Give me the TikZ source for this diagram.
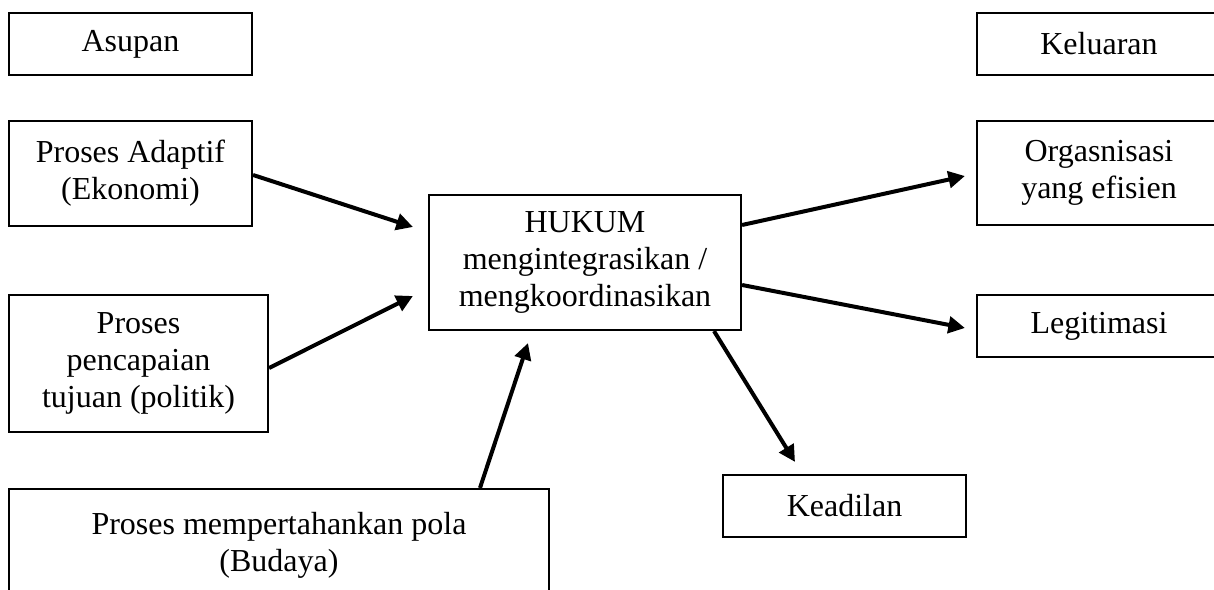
\documentclass[tikz,border=0pt]{standalone}
\usepackage{fontspec}
\setmainfont{Liberation Serif}
\usetikzlibrary{positioning, shapes, arrows.meta, calc}
\tikzset{
  box/.style={draw, line width=0.8pt, align=center, inner sep=0,
    font=\fontsize{12}{13.8}\selectfont},
  link/.style={->, line width=1.5pt}
}

\begin{document}
\begin{tikzpicture}[x=0.375pt,y=-0.375pt,>={Triangle[width=6.2pt,length=6.2pt]}]
\useasboundingbox (0,0) rectangle (1214,590);
\clip (0,0) rectangle (1214,590);

%left column
\node [box, minimum width=243*0.375pt, minimum height=62*0.375pt] (asupan) at (130.5,44) {Asupan};
\node [box, minimum width=243*0.375pt, minimum height=105*0.375pt] (adaptif) at (130.5,173.5) {Proses Adaptif\\(Ekonomi)};
\node [box, minimum width=259*0.375pt, minimum height=137*0.375pt] (tujuan) at (138.5,363.5) {Proses\\pencapaian\\tujuan (politik)};
\node [box, minimum width=540*0.375pt, minimum height=112*0.375pt] (budaya) at (279,545) {Proses mempertahankan pola\\(Budaya)};

%middle
\node [box, minimum width=312*0.375pt, minimum height=135*0.375pt] (hukum) at (585,262.5) {HUKUM\\mengintegrasikan /\\mengkoordinasikan};
\node [box, minimum width=243*0.375pt, minimum height=62*0.375pt] (adil) at (844.5,506) {Keadilan};

%right column
\node [box, minimum width=244*0.375pt, minimum height=62*0.375pt] (keluaran) at (1099,44) {Keluaran};
\node [box, minimum width=244*0.375pt, minimum height=104*0.375pt] (efisien) at (1099,173) {Orgasnisasi\\yang efisien};
\node [box, minimum width=244*0.375pt, minimum height=62*0.375pt] (legitim) at (1099,326) {Legitimasi};

%inputs
\draw[link] ($(adaptif.east)+(0,1.5)$) -- ($(hukum.west)+(-15,-35.5)$);
\draw[link] ($(tujuan.east)+(0,4.5)$) -- ($(hukum.west)+(-15,33.5)$);
\draw[link] ($(budaya.north)+(201,0)$) -- ($(hukum.south)+(-57,12)$);

%outputs
\draw[link] ($(hukum.east)+(0,-37.5)$) -- ($(efisien.west)+(-11,3)$);
\draw[link] ($(hukum.east)+(0,22.5)$) -- ($(legitim.west)+(-11,2)$);
\draw[link] ($(hukum.south)+(129,0)$) -- ($(adil.north)+(-49.5,-12)$);

\end{tikzpicture}
\end{document}
